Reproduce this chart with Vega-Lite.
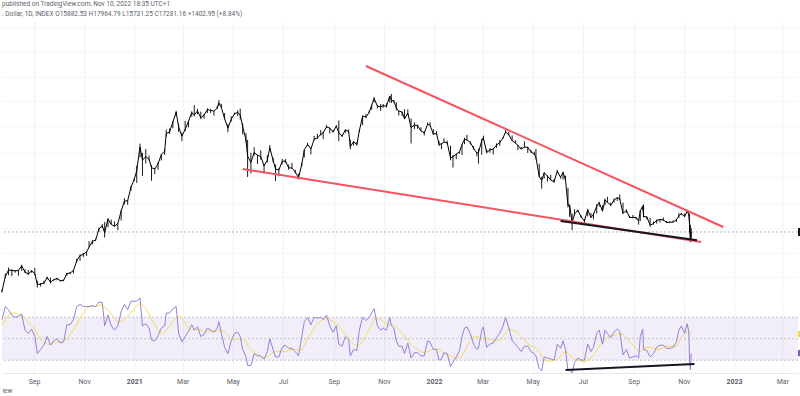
{
"$schema": "https://vega.github.io/schema/vega-lite/v6.json",
"padding": {"left": 0, "right": 0, "top": 1, "bottom": 0},
"background": "white",
"config": {"view": {"stroke": null}, "font": "Roboto", "axis": {"labelFont": "Roboto", "titleFont": "Roboto"}},
"title": {"text": "published on TradingView.com, Nov 10, 2022 18:35 UTC+1", "subtitle": ". Dollar, 1D, INDEX  O15882.53  H17964.79  L15731.25  C17281.16  +1402.95 (+8.84%)", "anchor": "start", "frame": "group", "font": "Roboto", "fontSize": 6.5, "fontWeight": "normal", "color": "#5d606b", "subtitleFont": "Roboto", "subtitleFontSize": 6.5, "subtitleColor": "#5d606b", "subtitlePadding": 3, "offset": 4},
"spacing": 2,
"datasets": {
"btc": [
{"d":"2020-07-24","c":9550,"h":9700,"l":9400,"r":68,"m":62},
{"d":"2020-07-28","c":11050,"h":11400,"l":10900,"r":80,"m":68},
{"d":"2020-08-01","c":11800,"h":12100,"l":11200,"r":77,"m":72},
{"d":"2020-08-05","c":11750,"h":11900,"l":11100,"r":72,"m":74},
{"d":"2020-08-09","c":11700,"h":11800,"l":11500,"r":70,"m":74},
{"d":"2020-08-13","c":11750,"h":11800,"l":11150,"r":71,"m":73},
{"d":"2020-08-17","c":12300,"h":12450,"l":11700,"r":73,"m":72},
{"d":"2020-08-21","c":11550,"h":11900,"l":11450,"r":58,"m":69},
{"d":"2020-08-25","c":11350,"h":11800,"l":11200,"r":55,"m":65},
{"d":"2020-08-29","c":11700,"h":11800,"l":11500,"r":59,"m":62},
{"d":"2020-09-02","c":11400,"h":12050,"l":11200,"r":52,"m":59},
{"d":"2020-09-05","c":10200,"h":10600,"l":9900,"r":36,"m":54},
{"d":"2020-09-09","c":10250,"h":10350,"l":10000,"r":40,"m":49},
{"d":"2020-09-13","c":10350,"h":10600,"l":10250,"r":44,"m":46},
{"d":"2020-09-17","c":10950,"h":11050,"l":10750,"r":52,"m":45},
{"d":"2020-09-21","c":10450,"h":10950,"l":10300,"r":44,"m":45},
{"d":"2020-09-25","c":10700,"h":10750,"l":10600,"r":48,"m":46},
{"d":"2020-09-29","c":10850,"h":10900,"l":10650,"r":50,"m":47},
{"d":"2020-10-03","c":10600,"h":10650,"l":10500,"r":46,"m":47},
{"d":"2020-10-07","c":10650,"h":10700,"l":10550,"r":47,"m":48},
{"d":"2020-10-11","c":11400,"h":11450,"l":11100,"r":63,"m":50},
{"d":"2020-10-15","c":11450,"h":11550,"l":11300,"r":63,"m":54},
{"d":"2020-10-19","c":11750,"h":11800,"l":11400,"r":68,"m":58},
{"d":"2020-10-23","c":12950,"h":13200,"l":12700,"r":80,"m":63},
{"d":"2020-10-27","c":13650,"h":13800,"l":12950,"r":82,"m":69},
{"d":"2020-10-31","c":13800,"h":14000,"l":13450,"r":80,"m":74},
{"d":"2020-11-04","c":14150,"h":14250,"l":13600,"r":80,"m":78},
{"d":"2020-11-07","c":14850,"h":15750,"l":14800,"r":80,"m":80},
{"d":"2020-11-11","c":15700,"h":15950,"l":15250,"r":81,"m":80},
{"d":"2020-11-15","c":15950,"h":16150,"l":15800,"r":80,"m":80},
{"d":"2020-11-19","c":17800,"h":18100,"l":17350,"r":84,"m":81},
{"d":"2020-11-23","c":18400,"h":18750,"l":18000,"r":84,"m":82},
{"d":"2020-11-26","c":17150,"h":19100,"l":16350,"r":62,"m":79},
{"d":"2020-11-30","c":19700,"h":19850,"l":18150,"r":72,"m":77},
{"d":"2020-12-04","c":18650,"h":19550,"l":18600,"r":62,"m":73},
{"d":"2020-12-08","c":18300,"h":19200,"l":18250,"r":58,"m":69},
{"d":"2020-12-12","c":18800,"h":18900,"l":17600,"r":62,"m":66},
{"d":"2020-12-16","c":21300,"h":21500,"l":19400,"r":75,"m":66},
{"d":"2020-12-20","c":23500,"h":24250,"l":22800,"r":82,"m":68},
{"d":"2020-12-24","c":23700,"h":23800,"l":22700,"r":77,"m":71},
{"d":"2020-12-28","c":27050,"h":27400,"l":26100,"r":85,"m":74},
{"d":"2021-01-01","c":29350,"h":29600,"l":28800,"r":85,"m":78},
{"d":"2021-01-04","c":31950,"h":33600,"l":28250,"r":85,"m":81},
{"d":"2021-01-08","c":40600,"h":41950,"l":36500,"r":88,"m":83},
{"d":"2021-01-11","c":35550,"h":38200,"l":30300,"r":62,"m":82},
{"d":"2021-01-15","c":36800,"h":39700,"l":34400,"r":64,"m":78},
{"d":"2021-01-19","c":35800,"h":37300,"l":35500,"r":60,"m":73},
{"d":"2021-01-22","c":32950,"h":33800,"l":28900,"r":49,"m":68},
{"d":"2021-01-26","c":32500,"h":32900,"l":30900,"r":48,"m":63},
{"d":"2021-01-30","c":34250,"h":34850,"l":32250,"r":53,"m":58},
{"d":"2021-02-03","c":37600,"h":37700,"l":35400,"r":60,"m":55},
{"d":"2021-02-07","c":38900,"h":39700,"l":37400,"r":62,"m":56},
{"d":"2021-02-09","c":46400,"h":48200,"l":45000,"r":74,"m":58},
{"d":"2021-02-13","c":47150,"h":48800,"l":46200,"r":74,"m":62},
{"d":"2021-02-17","c":52100,"h":52600,"l":48900,"r":78,"m":66},
{"d":"2021-02-21","c":57500,"h":58300,"l":55500,"r":80,"m":70},
{"d":"2021-02-24","c":49700,"h":51300,"l":47100,"r":55,"m":71},
{"d":"2021-02-28","c":45200,"h":46800,"l":43000,"r":47,"m":69},
{"d":"2021-03-04","c":48400,"h":52600,"l":47500,"r":52,"m":65},
{"d":"2021-03-08","c":52400,"h":52600,"l":49300,"r":57,"m":60},
{"d":"2021-03-12","c":57300,"h":58000,"l":54900,"r":63,"m":58},
{"d":"2021-03-15","c":55850,"h":61700,"l":55100,"r":58,"m":59},
{"d":"2021-03-19","c":58200,"h":59400,"l":56300,"r":61,"m":59},
{"d":"2021-03-23","c":54350,"h":57800,"l":53600,"r":52,"m":58},
{"d":"2021-03-27","c":55800,"h":56600,"l":53900,"r":54,"m":57},
{"d":"2021-03-31","c":58900,"h":59800,"l":57000,"r":60,"m":57},
{"d":"2021-04-04","c":58700,"h":59000,"l":57000,"r":58,"m":57},
{"d":"2021-04-08","c":58000,"h":58200,"l":55500,"r":56,"m":57},
{"d":"2021-04-12","c":60000,"h":61200,"l":59400,"r":60,"m":57},
{"d":"2021-04-14","c":63100,"h":64850,"l":61300,"r":66,"m":58},
{"d":"2021-04-17","c":60350,"h":62500,"l":59900,"r":55,"m":58},
{"d":"2021-04-21","c":53800,"h":57000,"l":53500,"r":42,"m":56},
{"d":"2021-04-25","c":49000,"h":51000,"l":47000,"r":36,"m":53},
{"d":"2021-04-29","c":53500,"h":55200,"l":52300,"r":48,"m":50},
{"d":"2021-05-03","c":56600,"h":57200,"l":56000,"r":55,"m":49},
{"d":"2021-05-07","c":57350,"h":58600,"l":55200,"r":56,"m":50},
{"d":"2021-05-10","c":55800,"h":59500,"l":53400,"r":52,"m":50},
{"d":"2021-05-13","c":49700,"h":51300,"l":46000,"r":40,"m":49},
{"d":"2021-05-17","c":43500,"h":46600,"l":42300,"r":33,"m":47},
{"d":"2021-05-19","c":37000,"h":43500,"l":30000,"r":25,"m":44},
{"d":"2021-05-23","c":34700,"h":38300,"l":31100,"r":25,"m":40},
{"d":"2021-05-27","c":38400,"h":40400,"l":37200,"r":36,"m":37},
{"d":"2021-05-31","c":37300,"h":37500,"l":34200,"r":34,"m":35},
{"d":"2021-06-04","c":36850,"h":39200,"l":35700,"r":34,"m":33},
{"d":"2021-06-08","c":33600,"h":34100,"l":31100,"r":31,"m":32},
{"d":"2021-06-12","c":35500,"h":37400,"l":34700,"r":38,"m":33},
{"d":"2021-06-15","c":40200,"h":41300,"l":39500,"r":50,"m":35},
{"d":"2021-06-19","c":35500,"h":36400,"l":34800,"r":40,"m":37},
{"d":"2021-06-22","c":32500,"h":34000,"l":28800,"r":33,"m":38},
{"d":"2021-06-26","c":32200,"h":32700,"l":30200,"r":33,"m":38},
{"d":"2021-06-30","c":35000,"h":36000,"l":34000,"r":42,"m":38},
{"d":"2021-07-04","c":35300,"h":35900,"l":34500,"r":44,"m":38},
{"d":"2021-07-08","c":32900,"h":34000,"l":32250,"r":41,"m":39},
{"d":"2021-07-12","c":32800,"h":34600,"l":32700,"r":41,"m":40},
{"d":"2021-07-16","c":31550,"h":32250,"l":31100,"r":38,"m":40},
{"d":"2021-07-20","c":29800,"h":31000,"l":29300,"r":34,"m":39},
{"d":"2021-07-24","c":34200,"h":34500,"l":33400,"r":52,"m":40},
{"d":"2021-07-27","c":39450,"h":39500,"l":36500,"r":66,"m":44},
{"d":"2021-07-31","c":41600,"h":42300,"l":41100,"r":70,"m":50},
{"d":"2021-08-04","c":39700,"h":40000,"l":37600,"r":63,"m":55},
{"d":"2021-08-08","c":43800,"h":45300,"l":43300,"r":70,"m":60},
{"d":"2021-08-12","c":44400,"h":46200,"l":44000,"r":69,"m":64},
{"d":"2021-08-16","c":46000,"h":48000,"l":45500,"r":70,"m":66},
{"d":"2021-08-19","c":46800,"h":47200,"l":43900,"r":68,"m":68},
{"d":"2021-08-23","c":49500,"h":50500,"l":49000,"r":72,"m":69},
{"d":"2021-08-27","c":49050,"h":49200,"l":46400,"r":62,"m":68},
{"d":"2021-08-31","c":47150,"h":48100,"l":46800,"r":56,"m":66},
{"d":"2021-09-04","c":50000,"h":50500,"l":49500,"r":62,"m":64},
{"d":"2021-09-07","c":46800,"h":52900,"l":43000,"r":45,"m":62},
{"d":"2021-09-11","c":45200,"h":45900,"l":44800,"r":43,"m":58},
{"d":"2021-09-15","c":48100,"h":48400,"l":46800,"r":52,"m":54},
{"d":"2021-09-19","c":47300,"h":48300,"l":46900,"r":49,"m":51},
{"d":"2021-09-21","c":40700,"h":43600,"l":39600,"r":34,"m":48},
{"d":"2021-09-25","c":42800,"h":42900,"l":41100,"r":40,"m":45},
{"d":"2021-09-29","c":41500,"h":42600,"l":41100,"r":39,"m":43},
{"d":"2021-10-02","c":47700,"h":48300,"l":47200,"r":58,"m":44},
{"d":"2021-10-06","c":55300,"h":55700,"l":50400,"r":70,"m":48},
{"d":"2021-10-10","c":54700,"h":56500,"l":54100,"r":67,"m":53},
{"d":"2021-10-14","c":57400,"h":58500,"l":56900,"r":70,"m":59},
{"d":"2021-10-17","c":61500,"h":61800,"l":58900,"r":74,"m":64},
{"d":"2021-10-20","c":65900,"h":66900,"l":63500,"r":78,"m":68},
{"d":"2021-10-24","c":61100,"h":61800,"l":59700,"r":62,"m":69},
{"d":"2021-10-28","c":60600,"h":62400,"l":58200,"r":58,"m":68},
{"d":"2021-10-31","c":61300,"h":62400,"l":60100,"r":60,"m":66},
{"d":"2021-11-04","c":61000,"h":62900,"l":60200,"r":58,"m":64},
{"d":"2021-11-08","c":67500,"h":67700,"l":63300,"r":70,"m":63},
{"d":"2021-11-10","c":64900,"h":69000,"l":63000,"r":62,"m":63},
{"d":"2021-11-13","c":64200,"h":65000,"l":63300,"r":60,"m":63},
{"d":"2021-11-16","c":60000,"h":63500,"l":58600,"r":48,"m":61},
{"d":"2021-11-19","c":58100,"h":58300,"l":55600,"r":43,"m":58},
{"d":"2021-11-23","c":57600,"h":57800,"l":55300,"r":43,"m":55},
{"d":"2021-11-26","c":53700,"h":59200,"l":53600,"r":36,"m":52},
{"d":"2021-11-30","c":57000,"h":59100,"l":55900,"r":46,"m":49},
{"d":"2021-12-04","c":49200,"h":53900,"l":42000,"r":32,"m":45},
{"d":"2021-12-08","c":50500,"h":51900,"l":48600,"r":37,"m":42},
{"d":"2021-12-12","c":50100,"h":50800,"l":48700,"r":37,"m":40},
{"d":"2021-12-16","c":47600,"h":49400,"l":47500,"r":34,"m":38},
{"d":"2021-12-20","c":46700,"h":47500,"l":45500,"r":34,"m":37},
{"d":"2021-12-24","c":50800,"h":51800,"l":50600,"r":48,"m":38},
{"d":"2021-12-27","c":50600,"h":52000,"l":50400,"r":47,"m":39},
{"d":"2021-12-31","c":46200,"h":48500,"l":45700,"r":40,"m":40},
{"d":"2022-01-04","c":46400,"h":47500,"l":45700,"r":40,"m":41},
{"d":"2022-01-07","c":41600,"h":43100,"l":40900,"r":30,"m":40},
{"d":"2022-01-10","c":41800,"h":42200,"l":39700,"r":31,"m":38},
{"d":"2022-01-13","c":42600,"h":44300,"l":42400,"r":37,"m":36},
{"d":"2022-01-17","c":42300,"h":43200,"l":41600,"r":36,"m":35},
{"d":"2022-01-21","c":36300,"h":41100,"l":35500,"r":24,"m":34},
{"d":"2022-01-24","c":36700,"h":37500,"l":33000,"r":28,"m":33},
{"d":"2022-01-28","c":37700,"h":38000,"l":35900,"r":33,"m":32},
{"d":"2022-02-01","c":38700,"h":38800,"l":37900,"r":39,"m":32},
{"d":"2022-02-04","c":41600,"h":41700,"l":37400,"r":52,"m":34},
{"d":"2022-02-07","c":43800,"h":44500,"l":41700,"r":60,"m":38},
{"d":"2022-02-10","c":43500,"h":45800,"l":43300,"r":61,"m":43},
{"d":"2022-02-14","c":42500,"h":42900,"l":41600,"r":55,"m":48},
{"d":"2022-02-18","c":40000,"h":40900,"l":39500,"r":45,"m":52},
{"d":"2022-02-22","c":38200,"h":38400,"l":36900,"r":40,"m":52},
{"d":"2022-02-24","c":38300,"h":39800,"l":34300,"r":41,"m":51},
{"d":"2022-02-28","c":43200,"h":44000,"l":37500,"r":58,"m":50},
{"d":"2022-03-02","c":44400,"h":45400,"l":43300,"r":61,"m":51},
{"d":"2022-03-06","c":38400,"h":39700,"l":38100,"r":42,"m":50},
{"d":"2022-03-10","c":39400,"h":40100,"l":38300,"r":45,"m":49},
{"d":"2022-03-14","c":39700,"h":39900,"l":37600,"r":46,"m":48},
{"d":"2022-03-18","c":41300,"h":42000,"l":40200,"r":51,"m":48},
{"d":"2022-03-22","c":42400,"h":43400,"l":41000,"r":55,"m":49},
{"d":"2022-03-26","c":44500,"h":44800,"l":44100,"r":62,"m":52},
{"d":"2022-03-29","c":47100,"h":48200,"l":46700,"r":70,"m":56},
{"d":"2022-04-02","c":45800,"h":47200,"l":45600,"r":60,"m":59},
{"d":"2022-04-06","c":43200,"h":45500,"l":43100,"r":48,"m":58},
{"d":"2022-04-10","c":42200,"h":43400,"l":42100,"r":45,"m":57},
{"d":"2022-04-13","c":41100,"h":41500,"l":39300,"r":42,"m":55},
{"d":"2022-04-17","c":39700,"h":40600,"l":39600,"r":38,"m":52},
{"d":"2022-04-21","c":40500,"h":42900,"l":40300,"r":43,"m":49},
{"d":"2022-04-25","c":40400,"h":40600,"l":38200,"r":43,"m":45},
{"d":"2022-04-29","c":38600,"h":39400,"l":38200,"r":38,"m":43},
{"d":"2022-05-03","c":37700,"h":38700,"l":37500,"r":36,"m":42},
{"d":"2022-05-05","c":36500,"h":39800,"l":35800,"r":34,"m":41},
{"d":"2022-05-09","c":30100,"h":34300,"l":30000,"r":22,"m":38},
{"d":"2022-05-12","c":29000,"h":30100,"l":26700,"r":20,"m":34},
{"d":"2022-05-15","c":31300,"h":31400,"l":29500,"r":33,"m":31},
{"d":"2022-05-19","c":30300,"h":30500,"l":28700,"r":32,"m":29},
{"d":"2022-05-23","c":29100,"h":30700,"l":29000,"r":31,"m":29},
{"d":"2022-05-27","c":28600,"h":29400,"l":28300,"r":30,"m":30},
{"d":"2022-05-31","c":31800,"h":32200,"l":31200,"r":45,"m":31},
{"d":"2022-06-04","c":29900,"h":30000,"l":29500,"r":41,"m":33},
{"d":"2022-06-07","c":31400,"h":31600,"l":29200,"r":48,"m":36},
{"d":"2022-06-10","c":29100,"h":30400,"l":28900,"r":40,"m":38},
{"d":"2022-06-13","c":22500,"h":26900,"l":22100,"r":20,"m":37},
{"d":"2022-06-15","c":22600,"h":22800,"l":20100,"r":21,"m":35},
{"d":"2022-06-18","c":19000,"h":20800,"l":17600,"r":18,"m":33},
{"d":"2022-06-21","c":20700,"h":21700,"l":20400,"r":28,"m":31},
{"d":"2022-06-25","c":21500,"h":21600,"l":21100,"r":32,"m":30},
{"d":"2022-06-29","c":20100,"h":20400,"l":19900,"r":30,"m":29},
{"d":"2022-07-03","c":19300,"h":19700,"l":18800,"r":30,"m":28},
{"d":"2022-07-07","c":21600,"h":21800,"l":20200,"r":45,"m":30},
{"d":"2022-07-11","c":20000,"h":20900,"l":19900,"r":38,"m":32},
{"d":"2022-07-14","c":20600,"h":20900,"l":19600,"r":42,"m":35},
{"d":"2022-07-18","c":22400,"h":22800,"l":20800,"r":55,"m":39},
{"d":"2022-07-21","c":23200,"h":23400,"l":22300,"r":58,"m":43},
{"d":"2022-07-25","c":21300,"h":22600,"l":21300,"r":45,"m":46},
{"d":"2022-07-28","c":23800,"h":24200,"l":22600,"r":58,"m":49},
{"d":"2022-07-31","c":23300,"h":24600,"l":23200,"r":55,"m":51},
{"d":"2022-08-04","c":22600,"h":23200,"l":22400,"r":51,"m":53},
{"d":"2022-08-08","c":23800,"h":24200,"l":23200,"r":56,"m":53},
{"d":"2022-08-12","c":24400,"h":24500,"l":23600,"r":59,"m":54},
{"d":"2022-08-15","c":24100,"h":25200,"l":23800,"r":57,"m":55},
{"d":"2022-08-19","c":20800,"h":23200,"l":20800,"r":35,"m":54},
{"d":"2022-08-23","c":21500,"h":21700,"l":20900,"r":40,"m":51},
{"d":"2022-08-27","c":20000,"h":20300,"l":19900,"r":32,"m":47},
{"d":"2022-08-31","c":20000,"h":20500,"l":19800,"r":33,"m":44},
{"d":"2022-09-04","c":20000,"h":20100,"l":19600,"r":34,"m":41},
{"d":"2022-09-07","c":19300,"h":19400,"l":18600,"r":32,"m":38},
{"d":"2022-09-09","c":21400,"h":21500,"l":19300,"r":52,"m":38},
{"d":"2022-09-12","c":22400,"h":22500,"l":21500,"r":59,"m":40},
{"d":"2022-09-13","c":20200,"h":22800,"l":20000,"r":40,"m":41},
{"d":"2022-09-17","c":20100,"h":20200,"l":19600,"r":39,"m":42},
{"d":"2022-09-21","c":18500,"h":19900,"l":18200,"r":33,"m":42},
{"d":"2022-09-25","c":18800,"h":19200,"l":18600,"r":36,"m":41},
{"d":"2022-09-29","c":19400,"h":19600,"l":18800,"r":42,"m":40},
{"d":"2022-10-03","c":19600,"h":19700,"l":19000,"r":44,"m":40},
{"d":"2022-10-07","c":19500,"h":20000,"l":19300,"r":44,"m":42},
{"d":"2022-10-11","c":19050,"h":19300,"l":18900,"r":41,"m":43},
{"d":"2022-10-15","c":19050,"h":19200,"l":18900,"r":41,"m":43},
{"d":"2022-10-19","c":19100,"h":19400,"l":19000,"r":42,"m":43},
{"d":"2022-10-23","c":19550,"h":19700,"l":19100,"r":47,"m":43},
{"d":"2022-10-26","c":20300,"h":20900,"l":19900,"r":58,"m":46},
{"d":"2022-10-29","c":20800,"h":20900,"l":20550,"r":62,"m":52},
{"d":"2022-11-02","c":20150,"h":20800,"l":20100,"r":55,"m":55},
{"d":"2022-11-05","c":21300,"h":21450,"l":21100,"r":64,"m":57},
{"d":"2022-11-07","c":20600,"h":21050,"l":20400,"r":57,"m":58},
{"d":"2022-11-08","c":18550,"h":20700,"l":17200,"r":30,"m":57},
{"d":"2022-11-09","c":15880,"h":18600,"l":15600,"r":21,"m":55},
{"d":"2022-11-10","c":17281,"h":17965,"l":15731,"r":36,"m":54}
],
"trend": [
{"g":"res","d":"2021-10-10","p":91370},{"g":"res","d":"2022-12-19","p":18170},
{"g":"sup","d":"2021-05-13","p":32500},{"g":"sup","d":"2022-11-22","p":15632},
{"g":"div","d":"2022-06-04","p":19300},{"g":"div","d":"2022-11-17","p":15900}
],
"rsidiv": [{"d":"2022-06-10","v":20.7},{"d":"2022-11-14","v":26.4}],
"levels": [{"v":70},{"v":50},{"v":30}],
"band": [{"lo":30,"hi":70}],
"last": [{"price":17281.16,"rsi":36.6,"ma":54.3}]
},
"vconcat": [
{
"width": 796, "height": 272,
"layer": [
{"data": {"name": "last"}, "mark": {"type": "rule", "color": "#b2b5be", "strokeDash": [2, 2], "strokeWidth": 1},
 "encoding": {"y": {"field": "price", "type": "quantitative", "scale": {"type": "log", "domain": [9372, 143450], "nice": false, "zero": false},
   "axis": {"orient": "right", "labels": false, "ticks": false, "domain": false, "title": null, "grid": true, "gridColor": "#f6f6f6", "values": [11000, 14000, 18000, 23000, 30000, 38000, 50000, 64000, 82000, 105000, 135000]}}}},
{"data": {"name": "btc"}, "mark": {"type": "rule", "color": "#000000", "strokeWidth": 0.9},
 "encoding": {
   "x": {"field": "d", "type": "temporal", "scale": {"type": "utc", "domain": [{"year": 2020, "month": 7, "date": 24, "utc": true}, {"year": 2023, "month": 3, "date": 20, "utc": true}]},
     "axis": {"orient": "bottom", "labels": false, "ticks": false, "domain": false, "title": null, "grid": true, "gridColor": "#f2f2f2",
       "values": [{"year":2020,"month":9,"date":1,"utc":true},{"year":2020,"month":11,"date":1,"utc":true},{"year":2021,"month":1,"date":1,"utc":true},{"year":2021,"month":3,"date":1,"utc":true},{"year":2021,"month":5,"date":1,"utc":true},{"year":2021,"month":7,"date":1,"utc":true},{"year":2021,"month":9,"date":1,"utc":true},{"year":2021,"month":11,"date":1,"utc":true},{"year":2022,"month":1,"date":1,"utc":true},{"year":2022,"month":3,"date":1,"utc":true},{"year":2022,"month":5,"date":1,"utc":true},{"year":2022,"month":7,"date":1,"utc":true},{"year":2022,"month":9,"date":1,"utc":true},{"year":2022,"month":11,"date":1,"utc":true},{"year":2023,"month":1,"date":1,"utc":true},{"year":2023,"month":3,"date":1,"utc":true}]}},
   "y": {"field": "l", "type": "quantitative"},
   "y2": {"field": "h"}}},
{"data": {"name": "btc"}, "mark": {"type": "line", "color": "#000000", "strokeWidth": 1},
 "encoding": {"x": {"field": "d", "type": "temporal"}, "y": {"field": "c", "type": "quantitative"}}},
{"data": {"name": "trend"}, "mark": {"type": "line", "strokeWidth": 2},
 "encoding": {"x": {"field": "d", "type": "temporal"}, "y": {"field": "p", "type": "quantitative"}, "detail": {"field": "g"},
   "color": {"field": "g", "type": "nominal", "scale": {"domain": ["res", "sup", "div"], "range": ["#f7525f", "#f7525f", "#131722"]}, "legend": null}}},
{"data": {"name": "last"}, "mark": {"type": "point", "shape": "M0,-0.5H2V0.5H0Z", "filled": true, "color": "#131722", "opacity": 1, "size": 256, "strokeWidth": 0, "clip": false},
 "encoding": {"x": {"datum": {"year": 2023, "month": 3, "date": 20, "utc": true}, "type": "temporal"}, "y": {"field": "price", "type": "quantitative"}}}
]
},
{
"width": 796, "height": 75,
"layer": [
{"data": {"name": "band"}, "mark": {"type": "rect", "color": "#7e57c2", "opacity": 0.1},
 "encoding": {"y": {"field": "hi", "type": "quantitative", "scale": {"domain": [18, 88], "nice": false, "zero": false}, "axis": null}, "y2": {"field": "lo"}}},
{"data": {"name": "levels"}, "mark": {"type": "rule", "color": "#c3c5cc", "strokeDash": [2, 2], "strokeWidth": 1},
 "encoding": {"y": {"field": "v", "type": "quantitative"}}},
{"data": {"name": "btc"}, "mark": {"type": "line", "color": "#f5d84c", "strokeWidth": 1, "opacity": 0.9},
 "encoding": {
   "x": {"field": "d", "type": "temporal", "scale": {"type": "utc", "domain": [{"year": 2020, "month": 7, "date": 24, "utc": true}, {"year": 2023, "month": 3, "date": 20, "utc": true}]},
     "axis": {"orient": "bottom", "ticks": false, "domainColor": "#e6e8ee", "grid": true, "gridColor": "#f2f2f2", "labelFontSize": 7, "labelColor": "#5d606b", "labelPadding": 4,
       "labelExpr": "utcmonth(datum.value) == 0 ? utcFormat(datum.value, '%Y') : utcFormat(datum.value, '%b')",
       "labelFontWeight": {"condition": {"test": "utcmonth(datum.value) == 0", "value": "bold"}, "value": "normal"},
       "title": "iew", "titleAnchor": "start", "titleAlign": "left", "titleFontSize": 6.5, "titleFontWeight": "normal", "titleColor": "#5d606b", "titlePadding": 3,
       "values": [{"year":2020,"month":9,"date":1,"utc":true},{"year":2020,"month":11,"date":1,"utc":true},{"year":2021,"month":1,"date":1,"utc":true},{"year":2021,"month":3,"date":1,"utc":true},{"year":2021,"month":5,"date":1,"utc":true},{"year":2021,"month":7,"date":1,"utc":true},{"year":2021,"month":9,"date":1,"utc":true},{"year":2021,"month":11,"date":1,"utc":true},{"year":2022,"month":1,"date":1,"utc":true},{"year":2022,"month":3,"date":1,"utc":true},{"year":2022,"month":5,"date":1,"utc":true},{"year":2022,"month":7,"date":1,"utc":true},{"year":2022,"month":9,"date":1,"utc":true},{"year":2022,"month":11,"date":1,"utc":true},{"year":2023,"month":1,"date":1,"utc":true},{"year":2023,"month":3,"date":1,"utc":true}]}},
   "y": {"field": "m", "type": "quantitative"}}},
{"data": {"name": "btc"}, "mark": {"type": "line", "color": "#9580d6", "strokeWidth": 1},
 "encoding": {"x": {"field": "d", "type": "temporal"}, "y": {"field": "r", "type": "quantitative"}}},
{"data": {"name": "rsidiv"}, "mark": {"type": "line", "color": "#131722", "strokeWidth": 2},
 "encoding": {"x": {"field": "d", "type": "temporal"}, "y": {"field": "v", "type": "quantitative"}}},
{"data": {"name": "last"}, "mark": {"type": "point", "shape": "M0,-0.5H2V0.5H0Z", "filled": true, "color": "#f5d84c", "opacity": 1, "size": 160, "strokeWidth": 0, "clip": false},
 "encoding": {"x": {"datum": {"year": 2023, "month": 3, "date": 20, "utc": true}, "type": "temporal"}, "y": {"field": "ma", "type": "quantitative"}}},
{"data": {"name": "last"}, "mark": {"type": "point", "shape": "M0,-0.5H2V0.5H0Z", "filled": true, "color": "#7e57c2", "opacity": 1, "size": 160, "strokeWidth": 0, "clip": false},
 "encoding": {"x": {"datum": {"year": 2023, "month": 3, "date": 20, "utc": true}, "type": "temporal"}, "y": {"field": "rsi", "type": "quantitative"}}}
]
}
]
}
